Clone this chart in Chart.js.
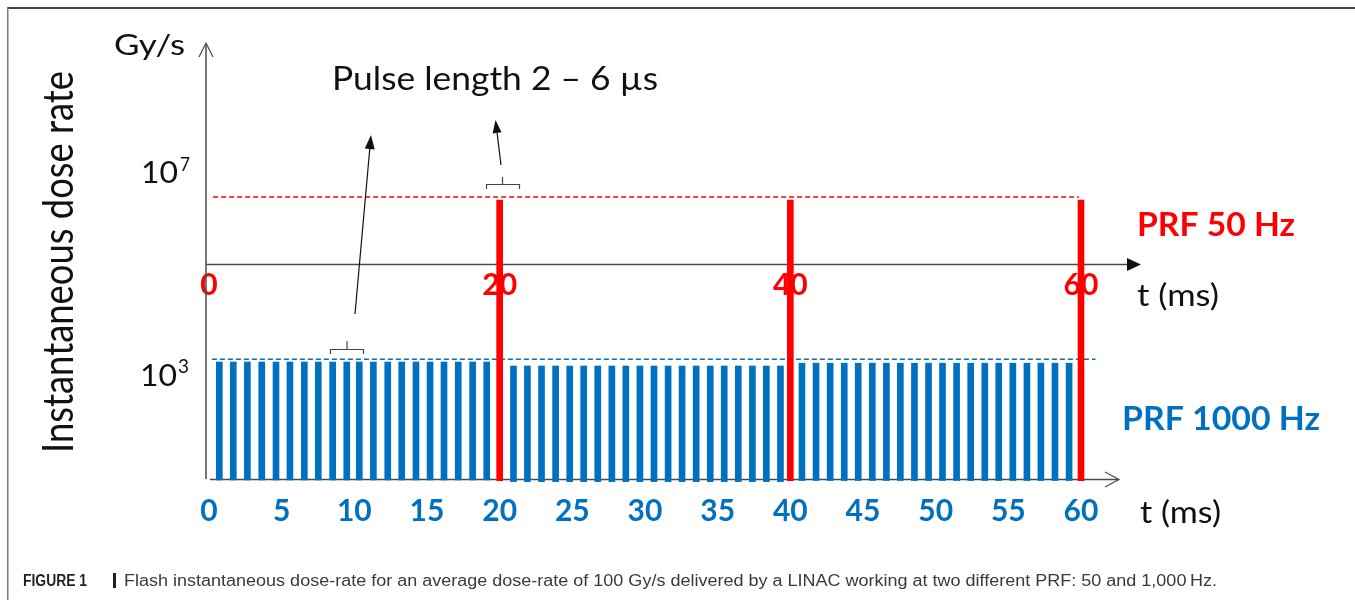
<!DOCTYPE html>
<html><head><meta charset="utf-8">
<script src="https://cdn.jsdelivr.net/npm/chart.js@4.4.1/dist/chart.umd.min.js"></script>
<style>html,body{margin:0;padding:0;background:#fff;overflow:hidden}canvas{display:block}</style>
</head><body>
<canvas id="c" width="1355" height="600"></canvas>
<script>
// ---------- data ----------
// PRF 1000 Hz pulses: times (ms), bar tops and bases (Gy/s, log axis)
const blueTimes = [0.71,1.67,2.64,3.63,4.61,5.57,6.56,7.52,8.51,9.48,10.34,11.31,12.30,13.26,14.24,15.21,16.17,17.15,18.14,19.11,
  20.95,21.91,22.88,23.85,24.82,25.78,26.75,27.72,28.68,29.65,30.62,31.59,32.55,33.52,34.49,35.45,36.42,37.39,38.35,39.32,
  40.80,41.77,42.74,43.71,44.67,45.64,46.61,47.57,48.54,49.51,50.47,51.44,52.41,53.38,54.34,55.31,56.28,57.24,58.21,59.18];
const blueTops = [891,891,891,891,891,891,891,891,891,891,891,891,891,891,891,891,891,891,891,891,
  708,708,708,708,708,708,708,708,708,708,708,708,708,708,708,708,708,708,708,708,
  832,832,832,832,832,832,832,832,832,832,832,832,832,832,832,832,832,832,832,832];
const blueBases = [1,1,1,1,1,1,1,1,1,1,1,1,1,1,1,1,1,1,1,1,
  0.91,0.91,0.91,0.91,0.91,0.91,0.91,0.91,0.91,0.91,0.91,0.91,0.91,0.91,0.91,0.91,0.91,0.91,0.91,0.91,
  0.97,0.97,0.97,0.97,0.97,0.97,0.97,0.97,0.97,0.97,0.97,0.97,0.97,0.97,0.97,0.97,0.97,0.97,0.97,0.97];
// PRF 50 Hz pulses
const redTimes = [20, 40, 60];
const redTops = [1e7, 1e7, 1e7];
const redBases = [0.96, 0.96, 0.96];
// dashed dose-rate level lines
const redLevelTimes = [0.28, 59.86];
const redLevelValues = [1.19e7, 1.19e7];
const blueLevelTimes = [0.2, 61.0];
const blueLevelValues = [1041, 1041];
// tick labels
const blueTickLabels = ['0','5','10','15','20','25','30','35','40','45','50','55','60'];
const redTickLabels = ['0','20','40','60'];
const levelBases = ['10', '10'];
const levelExps = ['7', '3'];

const RED = '#FF0000', BLUE = '#0070C0', INK = '#111111';
const upperAxisValue = Math.pow(10, 5.4);

function fitText(ctx, s, x, y, o) {
  ctx.save();
  ctx.font = (o.weight || 'normal') + ' ' + o.size + 'px ' + (o.family || 'Lato');
  const m = ctx.measureText(s).width;
  const sx = o.w ? o.w / m : 1;
  ctx.translate(x, y);
  ctx.scale(sx, 1);
  ctx.fillStyle = o.color || INK;
  ctx.textBaseline = 'alphabetic';
  ctx.textAlign = 'left';
  ctx.fillText(s, o.align === 'center' ? -m / 2 : 0, 0);
  ctx.restore();
}
function arrow(ctx, x1, y1, x2, y2, len, hw) {
  const a = Math.atan2(y2 - y1, x2 - x1);
  const bx = x2 - len * Math.cos(a), by = y2 - len * Math.sin(a);
  ctx.beginPath(); ctx.moveTo(x1, y1); ctx.lineTo(bx, by); ctx.stroke();
  ctx.beginPath();
  ctx.moveTo(x2, y2);
  ctx.lineTo(bx + hw * Math.sin(a), by - hw * Math.cos(a));
  ctx.lineTo(bx - hw * Math.sin(a), by + hw * Math.cos(a));
  ctx.closePath(); ctx.fill();
}
function bracket(ctx, l, r, top, end, tx, ttop) {
  ctx.beginPath();
  ctx.moveTo(l, end); ctx.lineTo(l, top); ctx.lineTo(r, top); ctx.lineTo(r, end);
  ctx.moveTo(tx, top); ctx.lineTo(tx, ttop);
  ctx.stroke();
}

const deco = {
  id: 'deco',
  beforeDraw(chart) {
    const ctx = chart.ctx;
    ctx.save();
    ctx.fillStyle = '#fff'; ctx.fillRect(0, 0, chart.width, chart.height);
    ctx.fillStyle = '#444'; ctx.fillRect(7, 7, 1348, 2);
    ctx.fillStyle = '#7a7a7a'; ctx.fillRect(7, 7, 1.5, 593);
    ctx.restore();
  },
  beforeDatasetsDraw(chart) {
    const ctx = chart.ctx, xs = chart.scales.x, ys = chart.scales.y, ca = chart.chartArea;
    ctx.save();
    ctx.strokeStyle = '#4a4a4a'; ctx.fillStyle = '#111'; ctx.lineWidth = 1.5;
    const x0 = xs.getPixelForValue(0) - 3;
    // vertical axis with open arrow
    ctx.beginPath(); ctx.moveTo(x0, ca.bottom - 1); ctx.lineTo(x0, 44); ctx.stroke();
    ctx.lineWidth = 1.2;
    ctx.beginPath(); ctx.moveTo(x0 - 7, 57); ctx.lineTo(x0, 43); ctx.lineTo(x0 + 7, 57); ctx.stroke();
    // upper time axis with filled arrow
    const yu = Math.round(ys.getPixelForValue(upperAxisValue)) + 0.5;
    ctx.lineWidth = 1.5;
    ctx.beginPath(); ctx.moveTo(x0, yu); ctx.lineTo(1130, yu); ctx.stroke();
    ctx.beginPath(); ctx.moveTo(1141, yu); ctx.lineTo(1127, yu - 6.5); ctx.lineTo(1127, yu + 6.5); ctx.closePath(); ctx.fill();
    // lower time axis with open arrow
    const yl = ca.bottom - 0.5;
    ctx.beginPath(); ctx.moveTo(x0 + 4, yl); ctx.lineTo(1119, yl); ctx.stroke();
    ctx.lineWidth = 1.2;
    ctx.beginPath(); ctx.moveTo(1105, yl - 7.5); ctx.lineTo(1119, yl); ctx.lineTo(1105, yl + 7.5); ctx.stroke();
    ctx.restore();
  },
  afterDatasetsDraw(chart) {
    const ctx = chart.ctx;
    ctx.save();
    // axis labels
    fitText(ctx, 'Gy/s', 114, 55, {size: 29, w: 71});
    ctx.save(); ctx.translate(73, 262); ctx.rotate(-Math.PI / 2);
    fitText(ctx, 'Instantaneous dose rate', 0, 0, {size: 42, w: 382, align: 'center'});
    ctx.restore();
    // level labels 10^7 and 10^3
    fitText(ctx, levelBases[0], 141, 183, {size: 31, w: 37});
    fitText(ctx, levelExps[0], 180, 171, {size: 20, w: 10});
    fitText(ctx, levelBases[1], 140, 386, {size: 31, w: 37});
    fitText(ctx, levelExps[1], 178, 373, {size: 20, w: 11});
    // annotation
    fitText(ctx, 'Pulse length 2 \u2013 6 \u00B5s', 332, 90, {size: 32, w: 326});
    ctx.strokeStyle = '#111'; ctx.fillStyle = '#111'; ctx.lineWidth = 1.2;
    arrow(ctx, 355, 314, 371, 135, 14, 5);
    arrow(ctx, 501, 165, 495.5, 120, 13, 4.5);
    ctx.strokeStyle = '#444'; ctx.lineWidth = 1.2;
    bracket(ctx, 330.5, 363.5, 349.5, 354, 347, 341);
    bracket(ctx, 486.5, 519.5, 184.5, 189, 502.5, 177);
    // series labels
    fitText(ctx, 'PRF 50 Hz', 1137, 236, {size: 32, weight: 'bold', color: RED, w: 158});
    fitText(ctx, 'PRF 1000 Hz', 1122, 430, {size: 33, weight: 'bold', color: BLUE, w: 198});
    fitText(ctx, 't (ms)', 1137, 306, {size: 31, w: 82});
    fitText(ctx, 't (ms)', 1140, 523, {size: 31, w: 81});
    // caption
    fitText(ctx, 'FIGURE 1', 23, 586, {size: 16, weight: 'bold', family: 'Liberation Sans', color: '#231f20', w: 64});
    ctx.fillStyle = '#231f20'; ctx.fillRect(113, 573, 3, 15);
    fitText(ctx, 'Flash instantaneous dose-rate for an average dose-rate of 100 Gy/s delivered by a LINAC working at two different PRF: 50 and 1,000\u2009Hz.',
      124, 586, {size: 16, family: 'Liberation Sans', color: '#3a3a3a', w: 1093});
    ctx.restore();
  }
};

const tickFont = {family: 'Lato', size: 30, weight: 'bold'};
new Chart(document.getElementById('c').getContext('2d'), {
  type: 'bar',
  data: {
    datasets: [
      {type: 'bar', label: 'PRF 50 Hz', data: redTimes.map((t, i) => ({x: t, y: [redBases[i], redTops[i]]})),
        backgroundColor: RED, barThickness: 6, grouped: false, order: 0, clip: false},
      {type: 'line', label: '10^7 level', data: redLevelTimes.map((t, i) => ({x: t, y: redLevelValues[i]})),
        borderColor: RED, borderWidth: 1.6, borderDash: [5, 3], pointRadius: 0, order: 1, clip: false},
      {type: 'line', label: '10^3 level', data: blueLevelTimes.map((t, i) => ({x: t, y: blueLevelValues[i]})),
        borderColor: BLUE, borderWidth: 1.6, borderDash: [5, 3], pointRadius: 0, order: 1, clip: false},
      {type: 'bar', label: 'PRF 1000 Hz', data: blueTimes.map((t, i) => ({x: t, y: [blueBases[i], blueTops[i]]})),
        backgroundColor: BLUE, barThickness: 6, grouped: false, order: 2, clip: false}
    ]
  },
  options: {
    responsive: false, animation: false, devicePixelRatio: 1,
    layout: {padding: {left: 209, right: 274, top: 200, bottom: 60}},
    plugins: {legend: {display: false}, tooltip: {enabled: false}},
    scales: {
      x: {type: 'linear', position: 'bottom', min: 0, max: 60, offset: false,
        grid: {display: false, drawTicks: false, offset: false}, border: {display: false},
        ticks: {stepSize: 5, autoSkip: false, maxRotation: 0, color: BLUE, font: tickFont, padding: 13,
          callback: (v, i) => blueTickLabels[i]},
        afterFit: s => { s.height = 60; }},
      x2: {type: 'linear', axis: 'x', position: {y: upperAxisValue}, min: 0, max: 60, offset: false,
        grid: {display: false, drawTicks: false, offset: false}, border: {display: false},
        ticks: {stepSize: 20, autoSkip: false, maxRotation: 0, color: RED, font: tickFont, padding: 3,
          callback: (v, i) => redTickLabels[i]},
        afterFit: s => { s.height = 0; }},
      y: {type: 'logarithmic', min: 1, max: 1e7, display: false}
    }
  },
  plugins: [deco]
});
</script>
</body></html>
